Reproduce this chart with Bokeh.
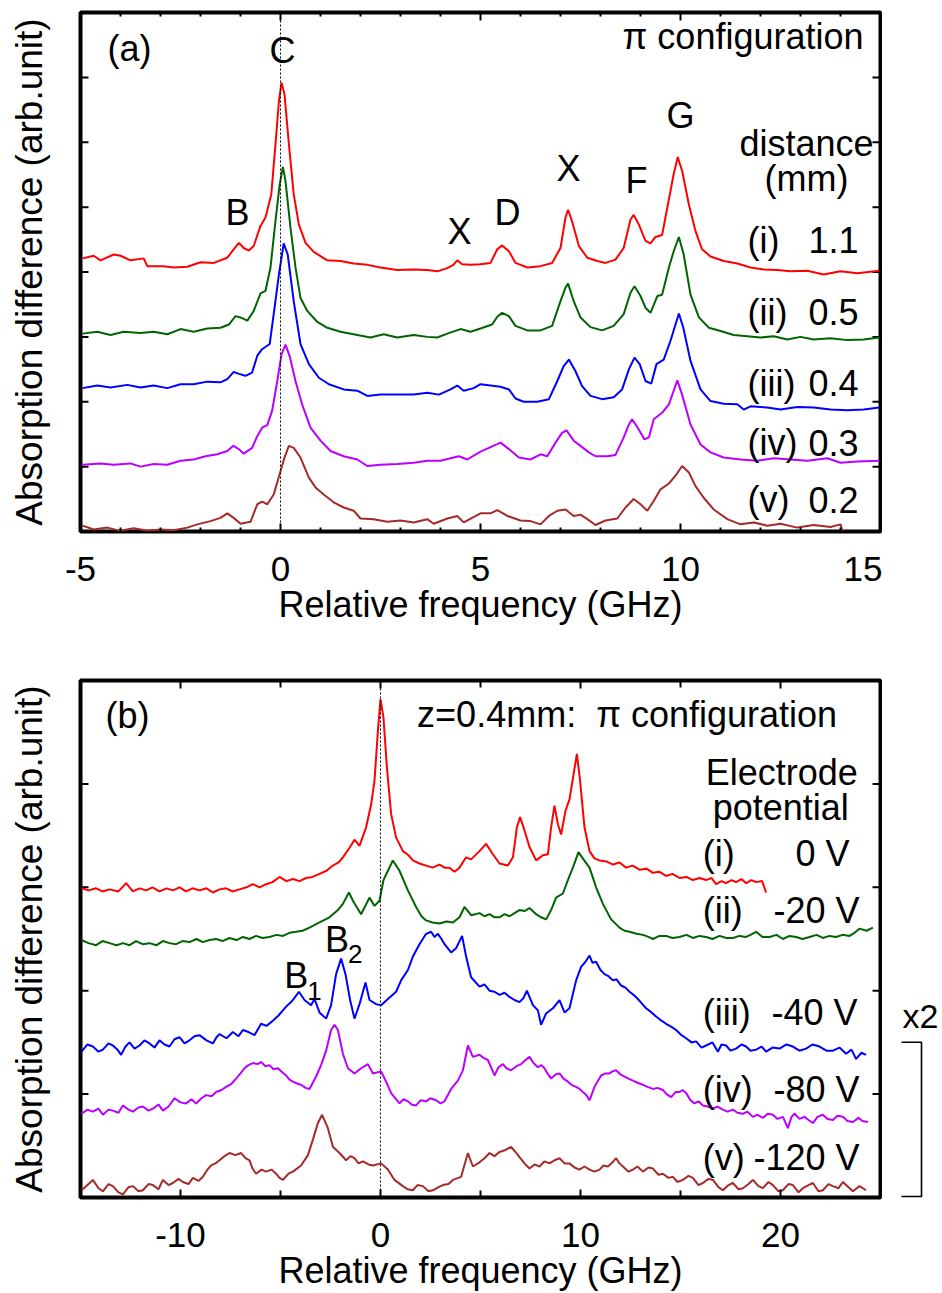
import math
from bokeh.plotting import figure
from bokeh.models import LinearAxis, FixedTicker, Range1d, Span, Label
from bokeh.layouts import column, row
from bokeh.embed import file_html
from bokeh.resources import INLINE

FONT = "Liberation Sans"

# ---------------- DATA: panel (a)  (GHz, arb. units incl. vertical offset) ----------------
a_i = [(-4.95, 4.21), (-4.67, 4.25), (-4.5, 4.18), (-4.17, 4.27), (-4.0, 4.25), (-3.75, 4.18), (-3.42, 4.21),
       (-3.33, 4.09), (-2.92, 4.09), (-2.67, 4.07), (-2.33, 4.08), (-2.0, 4.15), (-1.67, 4.14), (-1.33, 4.22),
       (-1.17, 4.35), (-1.04, 4.45), (-0.92, 4.37), (-0.79, 4.33), (-0.67, 4.40), (-0.5, 4.71), (-0.375, 4.84),
       (-0.23, 5.20), (-0.125, 5.97), (-0.04, 6.63), (0.025, 6.92), (0.1, 6.74), (0.21, 5.97), (0.33, 5.20),
       (0.46, 4.73), (0.625, 4.45), (0.83, 4.31), (1.17, 4.18), (1.5, 4.17), (1.83, 4.13), (2.17, 4.11),
       (2.5, 4.07), (2.92, 4.03), (3.33, 4.04), (3.67, 4.03), (3.92, 4.01), (4.17, 4.06), (4.32, 4.11),
       (4.42, 4.18), (4.54, 4.12), (4.75, 4.11), (5.0, 4.12), (5.25, 4.14), (5.42, 4.35), (5.54, 4.41),
       (5.71, 4.32), (5.875, 4.14), (6.17, 4.07), (6.5, 4.09), (6.79, 4.14), (7.0, 4.37), (7.125, 4.84),
       (7.19, 4.96), (7.29, 4.78), (7.46, 4.40), (7.67, 4.22), (7.92, 4.17), (8.125, 4.14), (8.375, 4.19),
       (8.58, 4.37), (8.75, 4.81), (8.83, 4.88), (8.96, 4.73), (9.125, 4.48), (9.25, 4.44), (9.375, 4.54),
       (9.54, 4.57), (9.67, 4.99), (9.83, 5.51), (9.93, 5.77), (10.04, 5.56), (10.21, 5.04), (10.375, 4.63),
       (10.54, 4.35), (10.75, 4.24), (11.08, 4.17), (11.42, 4.13), (11.75, 4.07), (12.08, 4.04), (12.42, 4.03),
       (12.75, 4.01), (13.17, 4.02), (13.58, 3.96), (14.0, 4.01), (14.42, 3.98), (14.97, 4.02)]

a_ii = [(-4.95, 3.05), (-4.58, 3.08), (-4.25, 3.03), (-3.92, 3.08), (-3.5, 3.06), (-3.17, 3.08), (-2.83, 3.04),
        (-2.5, 3.12), (-2.17, 3.08), (-1.83, 3.13), (-1.5, 3.14), (-1.29, 3.19), (-1.125, 3.32), (-1.0, 3.30),
        (-0.83, 3.25), (-0.67, 3.40), (-0.5, 3.67), (-0.375, 3.71), (-0.25, 4.07), (-0.125, 4.79), (-0.02, 5.35),
        (0.06, 5.62), (0.125, 5.40), (0.25, 4.68), (0.375, 4.07), (0.5, 3.60), (0.67, 3.40), (0.92, 3.23),
        (1.17, 3.14), (1.5, 3.08), (1.92, 3.03), (2.25, 2.99), (2.58, 3.04), (2.92, 2.99), (3.33, 3.03),
        (3.67, 3.00), (3.92, 2.99), (4.17, 3.05), (4.5, 3.12), (4.75, 3.08), (5.0, 3.13), (5.29, 3.19),
        (5.42, 3.31), (5.54, 3.37), (5.71, 3.32), (5.875, 3.17), (6.17, 3.10), (6.5, 3.10), (6.79, 3.17),
        (7.0, 3.55), (7.125, 3.76), (7.19, 3.82), (7.33, 3.55), (7.5, 3.30), (7.75, 3.15), (8.04, 3.10),
        (8.33, 3.17), (8.58, 3.35), (8.75, 3.68), (8.85, 3.78), (9.0, 3.63), (9.125, 3.45), (9.25, 3.37),
        (9.42, 3.63), (9.54, 3.65), (9.71, 4.07), (9.83, 4.32), (9.96, 4.54), (10.08, 4.27), (10.25, 3.65),
        (10.46, 3.30), (10.71, 3.14), (11.0, 3.09), (11.33, 3.03), (11.67, 3.01), (12.0, 2.99), (12.33, 3.01),
        (12.67, 2.96), (13.0, 3.00), (13.33, 2.96), (13.75, 2.98), (14.17, 2.95), (14.58, 2.96), (14.97, 2.99)]

a_iii = [(-4.95, 2.21), (-4.58, 2.25), (-4.25, 2.22), (-3.83, 2.26), (-3.5, 2.22), (-3.17, 2.25), (-2.83, 2.21),
         (-2.5, 2.27), (-2.17, 2.27), (-1.83, 2.31), (-1.5, 2.30), (-1.33, 2.35), (-1.17, 2.46), (-1.04, 2.43),
         (-0.875, 2.40), (-0.71, 2.45), (-0.58, 2.71), (-0.46, 2.81), (-0.27, 2.89), (-0.17, 3.35), (-0.04, 3.96),
         (0.08, 4.44), (0.18, 4.27), (0.33, 3.55), (0.5, 2.89), (0.71, 2.58), (0.96, 2.37), (1.21, 2.27),
         (1.58, 2.19), (1.92, 2.17), (2.17, 2.09), (2.5, 2.11), (2.92, 2.11), (3.33, 2.11), (3.67, 2.14),
         (3.96, 2.11), (4.25, 2.19), (4.42, 2.25), (4.58, 2.17), (4.83, 2.21), (5.0, 2.27), (5.25, 2.25),
         (5.5, 2.23), (5.71, 2.19), (5.875, 2.05), (6.08, 2.00), (6.42, 2.00), (6.71, 2.04), (6.92, 2.32),
         (7.08, 2.55), (7.21, 2.65), (7.375, 2.47), (7.54, 2.24), (7.75, 2.09), (8.04, 2.04), (8.33, 2.07),
         (8.54, 2.19), (8.71, 2.50), (8.85, 2.68), (8.98, 2.58), (9.125, 2.32), (9.27, 2.28), (9.4, 2.58),
         (9.58, 2.65), (9.75, 2.94), (9.875, 3.19), (9.96, 3.36), (10.07, 3.14), (10.25, 2.63), (10.5, 2.19),
         (10.75, 2.01), (11.08, 1.97), (11.42, 1.96), (11.58, 1.88), (11.75, 1.93), (12.17, 1.91), (12.5, 1.88),
         (12.92, 1.92), (13.33, 1.91), (13.75, 1.88), (14.17, 1.87), (14.58, 1.88), (14.97, 1.91)]

a_iv = [(-4.95, 1.03), (-4.5, 1.05), (-4.17, 1.03), (-3.75, 1.05), (-3.5, 1.00), (-3.17, 1.04), (-2.83, 1.03),
        (-2.5, 1.09), (-2.17, 1.11), (-1.875, 1.16), (-1.58, 1.19), (-1.33, 1.24), (-1.18, 1.32), (-1.04, 1.27),
        (-0.92, 1.20), (-0.71, 1.29), (-0.58, 1.47), (-0.46, 1.60), (-0.33, 1.64), (-0.21, 1.86), (-0.08, 2.32),
        (0.025, 2.73), (0.125, 2.88), (0.23, 2.70), (0.375, 2.32), (0.54, 1.96), (0.75, 1.60), (1.0, 1.40),
        (1.25, 1.24), (1.58, 1.16), (1.92, 1.11), (2.17, 1.01), (2.5, 1.03), (2.92, 1.04), (3.33, 1.06),
        (3.67, 1.09), (4.0, 1.09), (4.25, 1.13), (4.46, 1.16), (4.67, 1.11), (5.0, 1.23), (5.25, 1.30),
        (5.5, 1.37), (5.71, 1.27), (5.96, 1.14), (6.25, 1.11), (6.5, 1.19), (6.67, 1.16), (6.875, 1.37),
        (7.04, 1.52), (7.15, 1.56), (7.33, 1.40), (7.5, 1.32), (7.71, 1.22), (7.875, 1.16), (8.17, 1.16),
        (8.375, 1.18), (8.58, 1.45), (8.71, 1.65), (8.79, 1.73), (8.93, 1.60), (9.1, 1.42), (9.21, 1.45),
        (9.33, 1.73), (9.54, 1.83), (9.71, 1.96), (9.83, 2.17), (9.92, 2.33), (10.04, 2.11), (10.25, 1.65),
        (10.5, 1.34), (10.75, 1.22), (11.08, 1.14), (11.5, 1.11), (11.92, 1.09), (12.33, 1.13), (12.75, 1.11),
        (13.17, 1.09), (13.67, 1.13), (14.0, 1.06), (14.42, 1.08), (14.97, 1.09)]

a_v = [(-4.95, 0.09), (-4.67, 0.03), (-4.33, 0.06), (-4.0, 0.01), (-3.67, 0.05), (-3.33, 0.01), (-3.0, 0.03),
       (-2.67, 0.02), (-2.33, 0.06), (-2.08, 0.11), (-1.75, 0.16), (-1.5, 0.21), (-1.33, 0.28), (-1.17, 0.21),
       (-1.0, 0.12), (-0.75, 0.15), (-0.58, 0.42), (-0.46, 0.46), (-0.33, 0.42), (-0.17, 0.57), (0.0, 0.93),
       (0.1, 1.14), (0.21, 1.32), (0.33, 1.29), (0.5, 1.14), (0.71, 0.83), (0.875, 0.68), (1.08, 0.57),
       (1.33, 0.45), (1.58, 0.37), (1.83, 0.32), (2.0, 0.20), (2.33, 0.19), (2.67, 0.15), (3.0, 0.17),
       (3.33, 0.14), (3.67, 0.19), (3.83, 0.12), (4.17, 0.20), (4.42, 0.24), (4.58, 0.14), (5.0, 0.28),
       (5.25, 0.28), (5.42, 0.33), (5.67, 0.24), (6.0, 0.17), (6.25, 0.16), (6.5, 0.11), (6.71, 0.24),
       (6.92, 0.32), (7.125, 0.34), (7.33, 0.24), (7.5, 0.26), (7.67, 0.19), (7.875, 0.10), (8.125, 0.17),
       (8.42, 0.20), (8.625, 0.37), (8.83, 0.50), (9.0, 0.42), (9.17, 0.32), (9.33, 0.47), (9.5, 0.65),
       (9.71, 0.74), (9.875, 0.86), (10.04, 1.01), (10.21, 0.91), (10.375, 0.70), (10.58, 0.52), (10.83, 0.34),
       (11.17, 0.19), (11.5, 0.11), (11.83, 0.14), (12.17, 0.09), (12.5, 0.12), (12.92, 0.06), (13.33, 0.10),
       (13.75, 0.07), (14.0, 0.11), (14.05, 0.01)]

# ---------------- DATA: panel (b) ----------------
b_i = [(-14.95, 2.99), (-14.6, 2.97), (-14.22, 2.99), (-13.9, 2.96), (-13.55, 2.98), (-13.1, 2.96),
       (-12.72, 3.04), (-12.38, 2.96), (-12.05, 2.99), (-11.72, 2.97), (-11.4, 3.00), (-11.05, 2.96),
       (-10.7, 2.99), (-10.38, 2.97), (-10.05, 3.00), (-9.72, 2.96), (-9.4, 2.99), (-9.05, 2.97), (-8.7, 2.99),
       (-8.38, 2.95), (-8.05, 2.98), (-7.72, 2.99), (-7.4, 2.96), (-7.05, 2.98), (-6.7, 3.00), (-6.38, 3.03),
       (-6.05, 3.00), (-5.72, 3.03), (-5.4, 3.05), (-5.05, 3.10), (-4.7, 3.06), (-4.38, 3.08), (-4.05, 3.06),
       (-3.72, 3.09), (-3.4, 3.10), (-3.05, 3.13), (-2.7, 3.16), (-2.38, 3.21), (-2.1, 3.24), (-1.88, 3.29),
       (-1.52, 3.39), (-1.3, 3.46), (-1.05, 3.40), (-0.72, 3.58), (-0.47, 3.80), (-0.3, 4.03),
       (-0.13, 4.51), (0.0, 4.82), (0.15, 4.64), (0.32, 4.16), (0.53, 3.71), (0.78, 3.48), (1.12, 3.35),
       (1.4, 3.31), (1.62, 3.26), (1.95, 3.23), (2.28, 3.21), (2.6, 3.19), (2.95, 3.22), (3.2, 3.19),
       (3.45, 3.19), (3.7, 3.15), (3.95, 3.19), (4.28, 3.29), (4.53, 3.27), (4.95, 3.35), (5.28, 3.42),
       (5.62, 3.32), (5.95, 3.23), (6.37, 3.21), (6.62, 3.29), (6.82, 3.58), (6.98, 3.68), (7.2, 3.55),
       (7.45, 3.39), (7.78, 3.26), (8.12, 3.31), (8.37, 3.32), (8.53, 3.58), (8.7, 3.79), (8.87, 3.61),
       (9.03, 3.51), (9.25, 3.74), (9.45, 3.85), (9.65, 4.09), (9.82, 4.29), (9.98, 4.03), (10.2, 3.58),
       (10.45, 3.35), (10.7, 3.28), (10.95, 3.26), (11.3, 3.25), (11.62, 3.22), (11.95, 3.24), (12.28, 3.19),
       (12.6, 3.21), (12.95, 3.17), (13.3, 3.18), (13.62, 3.14), (13.95, 3.15), (14.28, 3.11), (14.6, 3.13),
       (14.95, 3.09), (15.3, 3.10), (15.62, 3.07), (15.95, 3.09), (16.28, 3.07), (16.55, 3.09), (16.78, 3.03),
       (17.05, 3.06), (17.28, 3.04), (17.55, 3.07), (17.78, 3.05), (18.05, 3.08), (18.28, 3.04), (18.55, 3.07),
       (18.78, 3.05), (19.08, 3.06), (19.28, 2.95)]

b_ii = [(-14.95, 2.49), (-14.6, 2.46), (-14.22, 2.44), (-13.9, 2.48), (-13.55, 2.46), (-13.2, 2.44),
        (-12.88, 2.46), (-12.55, 2.44), (-12.22, 2.48), (-11.9, 2.45), (-11.55, 2.46), (-11.2, 2.44),
        (-10.88, 2.48), (-10.55, 2.46), (-10.22, 2.45), (-9.9, 2.48), (-9.55, 2.47), (-9.2, 2.50),
        (-8.88, 2.47), (-8.55, 2.49), (-8.22, 2.50), (-7.9, 2.48), (-7.55, 2.51), (-7.2, 2.49), (-6.88, 2.52),
        (-6.55, 2.50), (-6.22, 2.53), (-5.9, 2.51), (-5.55, 2.52), (-5.2, 2.54), (-4.88, 2.53), (-4.55, 2.56),
        (-4.22, 2.57), (-3.9, 2.58), (-3.55, 2.61), (-3.05, 2.66), (-2.55, 2.71), (-2.13, 2.78), (-1.88, 2.84),
        (-1.58, 2.95), (-1.35, 2.86), (-0.97, 2.74), (-0.55, 2.90), (-0.3, 2.82), (-0.05, 2.87), (0.15, 3.07),
        (0.37, 3.16), (0.62, 3.26), (0.95, 3.16), (1.37, 2.97), (1.78, 2.81), (2.05, 2.72), (2.28, 2.68),
        (2.6, 2.66), (2.95, 2.65), (3.3, 2.67), (3.62, 2.66), (3.95, 2.71), (4.2, 2.81), (4.53, 2.73),
        (4.95, 2.75), (5.2, 2.72), (5.45, 2.74), (5.7, 2.71), (5.95, 2.71), (6.2, 2.74), (6.45, 2.72),
        (6.7, 2.75), (6.95, 2.78), (7.2, 2.77), (7.45, 2.80), (7.78, 2.74), (8.03, 2.71), (8.28, 2.69),
        (8.53, 2.78), (8.78, 2.90), (9.12, 2.94), (9.37, 3.07), (9.62, 3.19), (9.9, 3.34), (10.15, 3.27),
        (10.45, 3.19), (10.78, 3.00), (11.12, 2.84), (11.53, 2.69), (11.95, 2.61), (12.2, 2.58), (12.45, 2.57),
        (12.8, 2.55), (13.12, 2.54), (13.4, 2.52), (13.62, 2.50), (13.95, 2.53), (14.28, 2.53), (14.6, 2.51),
        (14.95, 2.52), (15.3, 2.54), (15.62, 2.51), (15.95, 2.53), (16.28, 2.52), (16.6, 2.50), (16.95, 2.53),
        (17.3, 2.51), (17.62, 2.51), (17.95, 2.53), (18.28, 2.52), (18.5, 2.54), (18.78, 2.57), (19.1, 2.52),
        (19.45, 2.52), (19.8, 2.54), (20.12, 2.50), (20.45, 2.53), (20.78, 2.52), (21.1, 2.50), (21.45, 2.52),
        (21.8, 2.54), (22.12, 2.51), (22.45, 2.53), (22.78, 2.52), (23.1, 2.54), (23.45, 2.53), (23.7, 2.56),
        (23.95, 2.60), (24.3, 2.58), (24.62, 2.61)]

b_iii = [(-14.95, 1.41), (-14.65, 1.48), (-14.38, 1.46), (-14.1, 1.41), (-13.88, 1.43), (-13.6, 1.49),
         (-13.38, 1.47), (-13.15, 1.43), (-12.97, 1.38), (-12.75, 1.46), (-12.55, 1.50), (-12.3, 1.44),
         (-12.05, 1.47), (-11.8, 1.52), (-11.55, 1.49), (-11.3, 1.45), (-11.05, 1.52), (-10.8, 1.48),
         (-10.55, 1.46), (-10.3, 1.53), (-10.05, 1.55), (-9.8, 1.49), (-9.55, 1.52), (-9.3, 1.56),
         (-9.05, 1.57), (-8.7, 1.52), (-8.38, 1.49), (-8.2, 1.55), (-8.05, 1.58), (-7.7, 1.54), (-7.38, 1.60),
         (-7.1, 1.56), (-6.88, 1.62), (-6.6, 1.60), (-6.3, 1.57), (-5.97, 1.68), (-5.7, 1.66), (-5.38, 1.71),
         (-5.1, 1.76), (-4.88, 1.81), (-4.7, 1.85), (-4.47, 1.89), (-4.3, 1.93), (-4.08, 1.99), (-3.8, 1.91),
         (-3.47, 1.86), (-3.3, 1.92), (-3.05, 1.79), (-2.72, 1.73), (-2.47, 1.86), (-2.22, 2.16), (-1.97, 2.31),
         (-1.75, 2.16), (-1.52, 1.91), (-1.3, 1.73), (-1.05, 1.87), (-0.75, 2.08), (-0.55, 1.91), (-0.22, 1.87),
         (0.03, 1.86), (0.37, 1.92), (0.78, 1.99), (1.03, 2.10), (1.37, 2.20), (1.62, 2.33), (1.95, 2.45),
         (2.28, 2.55), (2.53, 2.57), (2.7, 2.52), (2.87, 2.55), (3.05, 2.50), (3.2, 2.45), (3.53, 2.37),
         (3.78, 2.41), (4.08, 2.53), (4.28, 2.33), (4.53, 2.13), (4.95, 2.04), (5.2, 2.06), (5.45, 2.00),
         (5.7, 1.99), (5.95, 1.96), (6.2, 1.98), (6.45, 1.94), (6.7, 1.91), (6.95, 1.89), (7.15, 1.93),
         (7.32, 2.00), (7.62, 1.86), (7.87, 1.81), (8.03, 1.67), (8.28, 1.78), (8.62, 1.83), (8.95, 1.91),
         (9.2, 1.79), (9.45, 1.83), (9.78, 2.10), (10.03, 2.23), (10.25, 2.28), (10.45, 2.34), (10.6, 2.27),
         (10.78, 2.28), (11.0, 2.20), (11.2, 2.16), (11.4, 2.14), (11.62, 2.10), (11.8, 2.11), (12.03, 2.05),
         (12.25, 2.03), (12.45, 1.99), (12.65, 1.96), (12.87, 1.92), (13.05, 1.88), (13.28, 1.83), (13.55, 1.79),
         (13.78, 1.75), (14.05, 1.71), (14.28, 1.68), (14.55, 1.65), (14.78, 1.62), (15.05, 1.57), (15.28, 1.54),
         (15.55, 1.50), (15.78, 1.51), (16.05, 1.45), (16.28, 1.47), (16.6, 1.50), (16.87, 1.41), (17.05, 1.48),
         (17.28, 1.47), (17.5, 1.42), (17.78, 1.44), (18.05, 1.48), (18.28, 1.46), (18.5, 1.42), (18.78, 1.43),
         (19.05, 1.46), (19.28, 1.41), (19.6, 1.45), (19.95, 1.44), (20.3, 1.48), (20.62, 1.46), (20.95, 1.42),
         (21.28, 1.44), (21.6, 1.48), (21.95, 1.46), (22.3, 1.42), (22.62, 1.42), (22.95, 1.45), (23.28, 1.39),
         (23.55, 1.43), (23.78, 1.34), (24.05, 1.40), (24.28, 1.38)]

b_iv = [(-14.95, 0.81), (-14.65, 0.85), (-14.38, 0.83), (-14.1, 0.86), (-13.88, 0.80), (-13.6, 0.85),
        (-13.38, 0.84), (-13.1, 0.82), (-12.88, 0.89), (-12.6, 0.85), (-12.38, 0.83), (-12.1, 0.87),
        (-11.88, 0.88), (-11.6, 0.84), (-11.38, 0.86), (-11.1, 0.90), (-10.88, 0.84), (-10.6, 0.88),
        (-10.3, 0.96), (-10.0, 0.92), (-9.72, 0.91), (-9.45, 0.95), (-9.22, 0.91), (-8.95, 0.96), (-8.72, 0.99),
        (-8.45, 0.98), (-8.22, 1.02), (-7.95, 1.04), (-7.72, 1.07), (-7.45, 1.10), (-7.22, 1.15), (-7.0, 1.20),
        (-6.8, 1.25), (-6.6, 1.28), (-6.38, 1.30), (-6.15, 1.29), (-5.97, 1.31), (-5.75, 1.27), (-5.55, 1.28),
        (-5.35, 1.24), (-5.13, 1.25), (-4.9, 1.21), (-4.72, 1.18), (-4.55, 1.14), (-4.38, 1.12), (-4.15, 1.10),
        (-3.97, 1.09), (-3.75, 1.06), (-3.55, 1.05), (-3.22, 1.17), (-2.97, 1.28), (-2.72, 1.42), (-2.47, 1.62),
        (-2.3, 1.67), (-2.13, 1.62), (-1.88, 1.39), (-1.63, 1.25), (-1.3, 1.20), (-0.97, 1.25), (-0.63, 1.29),
        (-0.38, 1.20), (0.03, 1.22), (0.28, 1.12), (0.53, 1.01), (0.95, 0.91), (1.15, 0.95), (1.37, 0.93),
        (1.55, 0.90), (1.78, 0.89), (2.0, 0.94), (2.28, 0.93), (2.5, 0.96), (2.78, 0.94), (3.0, 0.91),
        (3.2, 0.93), (3.53, 1.05), (3.87, 1.13), (4.12, 1.23), (4.37, 1.47), (4.62, 1.36), (4.95, 1.38),
        (5.15, 1.35), (5.37, 1.33), (5.55, 1.25), (5.7, 1.18), (5.9, 1.26), (6.12, 1.29), (6.3, 1.25),
        (6.53, 1.23), (6.8, 1.27), (7.03, 1.29), (7.25, 1.33), (7.45, 1.36), (7.65, 1.30), (7.87, 1.26),
        (8.05, 1.28), (8.2, 1.25), (8.35, 1.20), (8.53, 1.15), (8.75, 1.19), (8.95, 1.20), (9.15, 1.15),
        (9.37, 1.12), (9.55, 1.09), (9.78, 1.07), (9.95, 1.05), (10.12, 1.02), (10.3, 0.99), (10.45, 0.94),
        (10.7, 1.07), (11.03, 1.18), (11.25, 1.20), (11.45, 1.20), (11.6, 1.22), (11.78, 1.23), (12.0, 1.19),
        (12.2, 1.17), (12.4, 1.15), (12.62, 1.13), (12.85, 1.11), (13.12, 1.09), (13.35, 1.07), (13.62, 1.05),
        (13.85, 1.06), (14.12, 1.04), (14.3, 1.00), (14.53, 0.97), (14.75, 1.02), (14.95, 1.02), (15.1, 1.04),
        (15.28, 1.01), (15.5, 0.94), (15.7, 0.91), (15.9, 0.93), (16.12, 0.89), (16.35, 0.88), (16.62, 0.86),
        (16.85, 0.88), (17.12, 0.85), (17.35, 0.83), (17.62, 0.85), (17.85, 0.82), (18.12, 0.81),
        (18.35, 0.83), (18.62, 0.78), (18.85, 0.80), (19.12, 0.77), (19.35, 0.81), (19.62, 0.80),
        (19.85, 0.76), (20.12, 0.78), (20.37, 0.67), (20.55, 0.78), (20.7, 0.81), (20.95, 0.76), (21.2, 0.78),
        (21.4, 0.75), (21.62, 0.72), (21.85, 0.78), (22.12, 0.80), (22.35, 0.76), (22.62, 0.75), (22.85, 0.79),
        (23.12, 0.78), (23.35, 0.74), (23.62, 0.73), (23.9, 0.77), (24.1, 0.74), (24.37, 0.73)]

b_v = [(-14.95, 0.07), (-14.65, 0.12), (-14.38, 0.17), (-14.1, 0.09), (-13.88, 0.06), (-13.6, 0.13),
       (-13.38, 0.11), (-13.1, 0.05), (-12.88, 0.03), (-12.6, 0.10), (-12.38, 0.11), (-12.1, 0.06),
       (-11.88, 0.07), (-11.6, 0.13), (-11.38, 0.12), (-11.1, 0.08), (-10.88, 0.17), (-10.6, 0.12),
       (-10.38, 0.14), (-10.1, 0.18), (-9.88, 0.15), (-9.6, 0.13), (-9.38, 0.19), (-9.1, 0.16), (-8.88, 0.20),
       (-8.65, 0.27), (-8.47, 0.31), (-8.25, 0.33), (-8.05, 0.36), (-7.8, 0.40), (-7.55, 0.43), (-7.25, 0.41),
       (-6.97, 0.43), (-6.75, 0.38), (-6.55, 0.36), (-6.4, 0.28), (-6.22, 0.23), (-5.95, 0.27), (-5.72, 0.25),
       (-5.45, 0.27), (-5.22, 0.23), (-5.05, 0.19), (-4.88, 0.17), (-4.6, 0.23), (-4.38, 0.25), (-3.97, 0.31),
       (-3.63, 0.41), (-3.38, 0.56), (-3.13, 0.72), (-2.92, 0.80), (-2.63, 0.67), (-2.38, 0.49), (-2.05, 0.43),
       (-1.72, 0.36), (-1.5, 0.40), (-1.3, 0.38), (-1.1, 0.33), (-0.88, 0.35), (-0.6, 0.32), (-0.38, 0.31),
       (0.03, 0.33), (0.37, 0.27), (0.7, 0.17), (1.12, 0.11), (1.35, 0.08), (1.62, 0.07), (1.85, 0.12),
       (2.12, 0.11), (2.4, 0.06), (2.62, 0.07), (2.9, 0.10), (3.12, 0.12), (3.4, 0.13), (3.62, 0.17),
       (4.03, 0.20), (4.37, 0.43), (4.62, 0.30), (4.95, 0.34), (5.2, 0.38), (5.45, 0.43), (5.7, 0.40),
       (5.95, 0.44), (6.25, 0.46), (6.53, 0.49), (6.75, 0.44), (6.95, 0.39), (7.2, 0.33), (7.45, 0.28),
       (7.7, 0.32), (7.95, 0.30), (8.2, 0.35), (8.45, 0.33), (8.7, 0.36), (8.95, 0.38), (9.2, 0.33),
       (9.45, 0.33), (9.7, 0.29), (9.95, 0.27), (10.2, 0.30), (10.45, 0.27), (10.7, 0.25), (10.95, 0.27),
       (11.15, 0.31), (11.37, 0.30), (11.6, 0.34), (11.78, 0.38), (11.95, 0.33), (12.12, 0.30), (12.4, 0.25),
       (12.62, 0.27), (12.85, 0.30), (13.12, 0.25), (13.4, 0.29), (13.62, 0.28), (13.9, 0.22), (14.12, 0.23),
       (14.4, 0.19), (14.62, 0.20), (14.85, 0.15), (15.12, 0.17), (15.4, 0.21), (15.62, 0.19), (15.9, 0.12),
       (16.12, 0.14), (16.4, 0.18), (16.62, 0.17), (16.9, 0.10), (17.12, 0.07), (17.4, 0.12), (17.62, 0.14),
       (17.9, 0.08), (18.12, 0.09), (18.4, 0.13), (18.62, 0.17), (18.9, 0.11), (19.12, 0.09), (19.4, 0.15),
       (19.62, 0.12), (19.9, 0.06), (20.12, 0.07), (20.4, 0.13), (20.62, 0.12), (20.9, 0.05), (21.12, 0.09),
       (21.4, 0.12), (21.62, 0.14), (21.9, 0.06), (22.12, 0.07), (22.4, 0.13), (22.62, 0.11), (22.9, 0.09),
       (23.12, 0.15), (23.4, 0.10), (23.62, 0.06), (23.95, 0.11), (24.28, 0.07)]

a_x_ticks = [-5, 0, 5, 10, 15]
a_x_minor = [-4, -3, -2, -1, 1, 2, 3, 4, 6, 7, 8, 9, 11, 12, 13, 14]
a_y_ticks = [1, 2, 3, 4, 5, 6, 7]
b_x_ticks = [-10, 0, 10, 20]
b_x_minor = [-15, -5, 5, 15, 25]
b_y_ticks = [1, 2, 3, 4]

a_rows = [("(i)", "1.1"), ("(ii)", "0.5"), ("(iii)", "0.4"), ("(iv)", "0.3"), ("(v)", "0.2")]
b_rows = [("(i)", "0 V"), ("(ii)", "-20 V"), ("(iii)", "-40 V"), ("(iv)", "-80 V"), ("(v)", "-120 V")]

COLORS = ["#ff0000", "#006400", "#0000ff", "#bb00ff", "#a52a2a"]

XLABEL = "Relative frequency (GHz)"
YLABEL = "Absorption difference (arb.unit)"


def unzip(pairs):
    return [p[0] for p in pairs], [p[1] for p in pairs]


def make_fig(width, height, xr, yr, mb_top, mb_bottom):
    p = figure(width=width, height=height, x_range=Range1d(*xr), y_range=Range1d(*yr),
               x_axis_type=None, y_axis_type=None, output_backend="svg", toolbar_location=None,
               min_border_left=80, min_border_right=2, min_border_top=mb_top, min_border_bottom=mb_bottom)
    p.outline_line_color = "black"
    p.outline_line_width = 4
    p.outline_line_alpha = 1.0
    p.background_fill_color = "white"
    p.border_fill_color = "white"
    return p


def add_axes(p, xr, yr, xt, xm, yt, xmaj_len, xmin_len):
    # bottom axis: labelled ticks + axis title
    ax = LinearAxis(ticker=FixedTicker(ticks=xt, minor_ticks=xm))
    ax.axis_line_color = None
    ax.major_tick_in = xmaj_len
    ax.major_tick_out = 0
    ax.minor_tick_in = xmin_len
    ax.minor_tick_out = 0
    ax.major_tick_line_width = 2
    ax.minor_tick_line_width = 2
    ax.major_label_text_font = FONT
    ax.major_label_text_font_size = "35px"
    ax.major_label_text_color = "black"
    ax.major_label_standoff = 25
    ax.major_label_overrides = {t: str(t) for t in xt}
    ax.axis_label = XLABEL
    ax.axis_label_text_font = FONT
    ax.axis_label_text_font_size = "36px"
    ax.axis_label_text_font_style = "normal"
    ax.axis_label_text_color = "black"
    ax.axis_label_standoff = 0
    p.add_layout(ax, "below")
    # left axis: only the title
    ay = LinearAxis(ticker=FixedTicker(ticks=[], minor_ticks=[]))
    ay.axis_line_color = None
    ay.major_tick_in = 0
    ay.major_tick_out = 0
    ay.minor_tick_in = 0
    ay.minor_tick_out = 0
    ay.major_label_standoff = 0
    ay.axis_label = YLABEL
    ay.axis_label_text_font = FONT
    ay.axis_label_text_font_size = "37px"
    ay.axis_label_text_font_style = "normal"
    ay.axis_label_text_color = "black"
    ay.axis_label_standoff = 31
    p.add_layout(ay, "left")
    # inward ticks on the other three sides
    up = -math.pi / 2
    p.ray(x=xt, y=[yr[1]] * len(xt), length=xmaj_len, length_units="screen", angle=up,
          line_color="black", line_width=2)
    p.ray(x=xm, y=[yr[1]] * len(xm), length=xmin_len, length_units="screen", angle=up,
          line_color="black", line_width=2)
    p.ray(x=[xr[0]] * len(yt), y=yt, length=8, length_units="screen", angle=0.0,
          line_color="black", line_width=2)
    p.ray(x=[xr[1]] * len(yt), y=yt, length=8, length_units="screen", angle=math.pi,
          line_color="black", line_width=2)


def txt(p, ppu, x, y, s, size=36, align="left"):
    # y is the intended baseline; shift compensates for the renderer's baseline placement
    p.add_layout(Label(x=x, y=y + 0.36 * size / ppu, text=s, text_font=FONT, text_font_size=f"{size}px",
                       text_align=align, text_baseline="alphabetic", text_color="black"))


# ---------------- panel (a) ----------------
A_XR, A_YR = (-5, 15), (0, 8)
pa = make_fig(882, 640, A_XR, A_YR, 12, 109)
PA = 519 / 8.0
add_axes(pa, A_XR, A_YR, a_x_ticks, a_x_minor, a_y_ticks, 8, 4)
pa.add_layout(Span(location=0, dimension="height", line_color="black", line_width=1, line_dash="2 2"))
for series, c in zip([a_i, a_ii, a_iii, a_iv, a_v], COLORS):
    xs, ys = unzip(series)
    pa.line(xs, ys, line_color=c, line_width=2)

txt(pa, PA, -4.325, 7.251, "(a)")
txt(pa, PA, 0.05, 7.22, "C", align="center")
txt(pa, PA, 14.575, 7.436, "\u03c0 configuration", align="right")
txt(pa, PA, 10.0, 6.219, "G", align="center")
txt(pa, PA, 13.15, 5.787, "distance", align="center")
txt(pa, PA, 13.15, 5.248, "(mm)", align="center")
txt(pa, PA, 7.2, 5.402, "X", align="center")
txt(pa, PA, 8.9, 5.217, "F", align="center")
txt(pa, PA, 5.675, 4.724, "D", align="center")
txt(pa, PA, 4.475, 4.431, "X", align="center")
txt(pa, PA, -1.075, 4.724, "B", align="center")
for (lab, val), yy in zip(a_rows, [4.291, 3.182, 2.089, 1.165, 0.287]):
    txt(pa, PA, 11.675, yy, lab)
    txt(pa, PA, 14.45, yy, val, align="right")

# ---------------- panel (b) ----------------
B_XR, B_YR = (-15, 25), (0, 5)
pb = make_fig(882, 653, B_XR, B_YR, 40, 95)
PB = 518 / 5.0
add_axes(pb, B_XR, B_YR, b_x_ticks, b_x_minor, b_y_ticks, 8, 7)
pb.add_layout(Span(location=0, dimension="height", line_color="black", line_width=1, line_dash="2 2"))
for series, c in zip([b_i, b_ii, b_iii, b_iv, b_v], COLORS):
    xs, ys = unzip(series)
    pb.line(xs, ys, line_color=c, line_width=2)

txt(pb, PB, -13.75, 4.533, "(b)")
txt(pb, PB, 1.83, 4.542, "z=0.4mm:\u00a0\u00a0\u03c0 configuration")
txt(pb, PB, 20.06, 3.983, "Electrode", align="center")
txt(pb, PB, 20.01, 3.645, "potential", align="center")
b_row_y = [3.201, 2.651, 1.666, 0.923, 0.266]
b_row_right = [23.45, 23.95, 23.85, 23.95, 23.95]
for (lab, val), yy, xr_ in zip(b_rows, b_row_y, b_row_right):
    txt(pb, PB, 16.11, yy, lab)
    txt(pb, PB, xr_, yy, val, align="right")
txt(pb, PB, -2.77, 2.371, "B")
txt(pb, PB, -1.62, 2.264, "2", size=26)
txt(pb, PB, -4.81, 2.023, "B")
txt(pb, PB, -3.66, 1.907, "1", size=26)

# side strip with the "x2" bracket (shares panel (b) vertical scale)
ps = figure(width=60, height=653, x_range=Range1d(0, 60), y_range=pb.y_range,
            x_axis_type=None, y_axis_type=None, output_backend="svg", toolbar_location=None,
            min_border_left=0, min_border_right=0, min_border_top=40, min_border_bottom=95)
ps.outline_line_color = None
ps.background_fill_color = "white"
ps.border_fill_color = "white"
ps.line([19, 39, 39, 19], [1.501, 1.501, 0.008, 0.008], line_color="black", line_width=1.6)
txt(ps, PB, 20, 1.637, "x2", size=34)

layout = column(pa, row(pb, ps))
open("out.html", "w").write(file_html(layout, INLINE))
